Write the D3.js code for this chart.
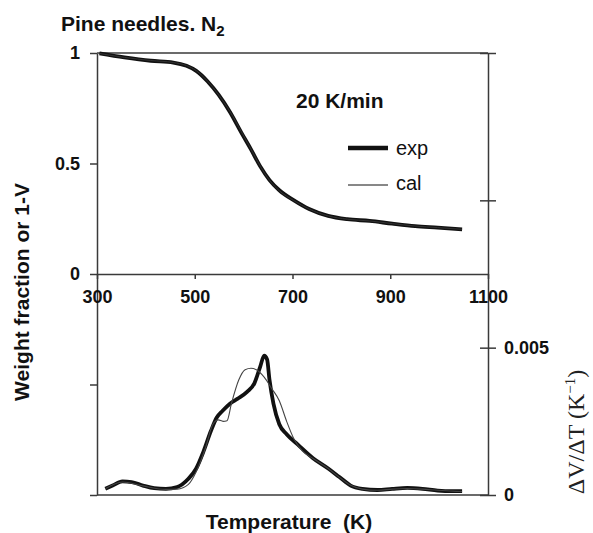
<!DOCTYPE html>
<html>
<head>
<meta charset="utf-8">
<script src="https://cdn.jsdelivr.net/npm/d3@7"></script>
<style>
  html, body { margin: 0; padding: 0; background: #fff; }
  svg { display: block; }
</style>
</head>
<body>
<svg id="chart" width="593" height="533"></svg>
<script>
// Upper panel: weight fraction (exp) and 1-V (cal), left axis
const tgT = [305, 356, 410, 456, 483, 503, 526, 549, 572, 595, 615, 634, 653, 673, 703, 734, 773, 812, 858, 904, 951, 997, 1047];
const tgExp = [0.998, 0.98, 0.965, 0.957, 0.942, 0.919, 0.872, 0.81, 0.733, 0.641, 0.564, 0.487, 0.425, 0.379, 0.333, 0.294, 0.263, 0.248, 0.24, 0.228, 0.217, 0.21, 0.202];
const tgCal = [0.998, 0.98, 0.966, 0.957, 0.943, 0.92, 0.873, 0.81, 0.735, 0.645, 0.565, 0.488, 0.424, 0.377, 0.332, 0.294, 0.263, 0.248, 0.24, 0.228, 0.217, 0.21, 0.202];

// Lower panel: dV/dT, right axis
const dtgExpT = [317, 332, 352, 371, 394, 417, 441, 464, 487, 503, 518, 533, 545, 557, 572, 588, 607, 622, 634, 642, 648, 653, 661, 673, 688, 711, 742, 773, 796, 819, 843, 874, 904, 935, 966, 997, 1028, 1047];
const dtgExp = [0.00021, 0.00032, 0.00046, 0.00044, 0.00032, 0.00023, 0.00021, 0.00027, 0.00055, 0.0009, 0.00148, 0.00217, 0.00263, 0.00286, 0.0031, 0.00327, 0.0035, 0.00379, 0.00436, 0.00473, 0.0046, 0.0039, 0.0031, 0.0024, 0.00206, 0.00171, 0.00125, 0.0009, 0.00061, 0.00032, 0.00021, 0.00017, 0.00021, 0.00024, 0.00021, 0.00015, 0.00013, 0.00013];
const dtgCalT = [317, 352, 394, 441, 464, 487, 503, 522, 537, 548, 558, 566, 575, 590, 603, 615, 626, 642, 658, 673, 688, 703, 720, 742, 773, 796, 819, 843, 874, 904, 935, 966, 997, 1028, 1047];
const dtgCal = [0.00021, 0.00044, 0.00031, 0.00019, 0.0002, 0.00036, 0.00079, 0.0016, 0.0024, 0.00255, 0.0025, 0.00252, 0.0031, 0.0039, 0.00425, 0.0043, 0.00425, 0.004, 0.0036, 0.0032, 0.0025, 0.0019, 0.0015, 0.00124, 0.0009, 0.0006, 0.00033, 0.0002, 0.00016, 0.0002, 0.00022, 0.0002, 0.00016, 0.00013, 0.00012];

const xTicks = [300, 500, 700, 900, 1100];
const leftTicks = [-1, -0.5, 0, 0.5, 1];
const leftLabels = { 0: '0', 0.5: '0.5', 1: '1' };
const rightTicks = [0, 0.005, 0.01, 0.015];
const rightLabels = { 0: '0', 0.005: '0.005' };

const svg = d3.select('#chart');
const AXIS = '#3a3a3a';

const x = d3.scaleLinear().domain([300, 1100]).range([97, 488]);
const yL = d3.scaleLinear().domain([-1, 1]).range([495, 53]);
const yR = d3.scaleLinear().domain([0, 0.015]).range([495, 53]);

// frame lines (top and bottom)
svg.append('line').attr('x1', 97).attr('x2', 488).attr('y1', yL(1)).attr('y2', yL(1))
  .attr('stroke', AXIS).attr('stroke-width', 1.5);
svg.append('line').attr('x1', 97).attr('x2', 488).attr('y1', yL(-1)).attr('y2', yL(-1))
  .attr('stroke', AXIS).attr('stroke-width', 1.5);

function styleAxis(g) {
  g.selectAll('path, line').attr('stroke', AXIS).attr('stroke-width', 1.5);
  g.selectAll('text')
    .attr('fill', '#111')
    .attr('font-family', 'Liberation Sans, Arial, sans-serif')
    .attr('font-weight', 'bold')
    .attr('font-size', 18);
}

// left axis
svg.append('g')
  .attr('transform', 'translate(97,0)')
  .call(d3.axisLeft(yL).tickValues(leftTicks).tickSize(7).tickSizeOuter(0).tickPadding(10)
    .tickFormat((d) => leftLabels[d] || ''))
  .call(styleAxis);

// right axis, ticks crossing the line
const rAxis = svg.append('g')
  .attr('transform', 'translate(488,0)')
  .call(d3.axisRight(yR).tickValues(rightTicks).tickSize(8).tickSizeOuter(0).tickPadding(8)
    .tickFormat((d) => rightLabels[d] || ''))
  .call(styleAxis);
rAxis.selectAll('.tick line').attr('x1', -8);

// x axis at weight 0
svg.append('g')
  .attr('transform', `translate(0,${yL(0)})`)
  .call(d3.axisBottom(x).tickValues(xTicks).tickSize(5).tickSizeOuter(0).tickPadding(11)
    .tickFormat(d3.format('d')))
  .call(styleAxis);

// curves
const lineTop = d3.line().x((d) => x(d[0])).y((d) => yL(d[1])).curve(d3.curveMonotoneX);
const lineBot = d3.line().x((d) => x(d[0])).y((d) => yR(d[1])).curve(d3.curveMonotoneX);

svg.append('path').datum(d3.zip(tgT, tgExp)).attr('d', lineTop)
  .attr('fill', 'none').attr('stroke', '#111').attr('stroke-width', 3.8);
svg.append('path').datum(d3.zip(tgT, tgCal)).attr('d', lineTop)
  .attr('fill', 'none').attr('stroke', '#333').attr('stroke-width', 1);

svg.append('path').datum(d3.zip(dtgExpT, dtgExp)).attr('d', lineBot)
  .attr('fill', 'none').attr('stroke', '#111').attr('stroke-width', 3.8).attr('stroke-linejoin', 'round');
svg.append('path').datum(d3.zip(dtgCalT, dtgCal)).attr('d', lineBot)
  .attr('fill', 'none').attr('stroke', '#444').attr('stroke-width', 1.1);

// texts
const SANS = 'Liberation Sans, Arial, sans-serif';

const title = svg.append('text').attr('x', 61).attr('y', 31)
  .attr('font-family', SANS).attr('font-weight', 'bold').attr('font-size', 21).attr('fill', '#111');
title.append('tspan').text('Pine needles. N');
title.append('tspan').attr('font-size', 15).attr('dy', 5).text('2');

svg.append('text').attr('x', 296).attr('y', 108)
  .attr('font-family', SANS).attr('font-weight', 'bold').attr('font-size', 21).attr('fill', '#111')
  .text('20 K/min');

// legend
svg.append('line').attr('x1', 348).attr('x2', 388).attr('y1', 148).attr('y2', 148)
  .attr('stroke', '#111').attr('stroke-width', 4.5);
svg.append('text').attr('x', 396).attr('y', 155)
  .attr('font-family', SANS).attr('font-size', 20).attr('fill', '#111').text('exp');
svg.append('line').attr('x1', 348).attr('x2', 388).attr('y1', 185).attr('y2', 185)
  .attr('stroke', '#111').attr('stroke-width', 1);
svg.append('text').attr('x', 396).attr('y', 190)
  .attr('font-family', SANS).attr('font-size', 20).attr('fill', '#111').text('cal');

// axis titles
svg.append('text').attr('x', 289).attr('y', 529).attr('text-anchor', 'middle')
  .attr('font-family', SANS).attr('font-weight', 'bold').attr('font-size', 21).attr('fill', '#111')
  .text('Temperature  (K)').attr('xml:space', 'preserve').style('white-space', 'pre');

svg.append('text').attr('transform', 'translate(29,292) rotate(-90)').attr('text-anchor', 'middle')
  .attr('font-family', SANS).attr('font-weight', 'bold').attr('font-size', 21).attr('fill', '#111')
  .text('Weight fraction or 1-V');

const rt = svg.append('text').attr('transform', 'translate(584,432) rotate(-90)').attr('text-anchor', 'middle')
  .attr('font-family', 'Liberation Serif, Times New Roman, serif').attr('font-size', 24).attr('fill', '#222');
rt.append('tspan').text('\u0394V/\u0394T (K');
rt.append('tspan').attr('font-size', 15).attr('dy', -9).text('\u22121');
rt.append('tspan').attr('dy', 9).text(')');
</script>
</body>
</html>
